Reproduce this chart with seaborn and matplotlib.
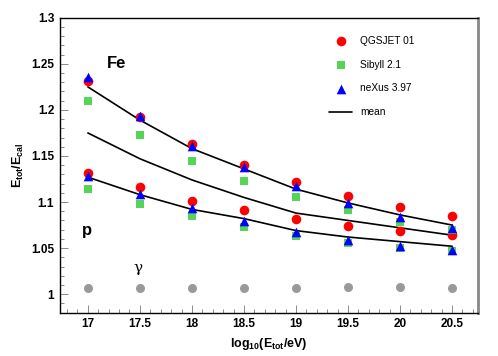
import numpy as np
import pandas as pd
import matplotlib
matplotlib.use("Agg")
import matplotlib.pyplot as plt
import seaborn as sns
from matplotlib.ticker import MultipleLocator

# energies, log10(E/eV)
energy = [17, 17.5, 18, 18.5, 19, 19.5, 20, 20.5]

# iron primaries
fe_qgsjet = [1.231, 1.192, 1.163, 1.140, 1.122, 1.107, 1.095, 1.085]
fe_sibyll = [1.210, 1.173, 1.145, 1.123, 1.105, 1.091, 1.078, 1.070]
fe_nexus = [1.236, 1.193, 1.161, 1.138, 1.117, 1.099, 1.084, 1.072]
fe_mean = [1.225, 1.189, 1.158, 1.136, 1.114, 1.099, 1.086, 1.075]

# proton primaries
p_qgsjet = [1.132, 1.116, 1.101, 1.091, 1.082, 1.074, 1.069, 1.064]
p_sibyll = [1.114, 1.098, 1.085, 1.073, 1.063, 1.056, 1.050, 1.047]
p_nexus = [1.128, 1.109, 1.093, 1.079, 1.067, 1.059, 1.052, 1.048]
p_mean = [1.127, 1.108, 1.092, 1.082, 1.069, 1.062, 1.057, 1.052]

# middle curve
mix_mean = [1.175, 1.147, 1.124, 1.105, 1.088, 1.080, 1.072, 1.064]

# photons
gamma = [1.007, 1.007, 1.007, 1.007, 1.007, 1.008, 1.008, 1.007]

sns.set_style("ticks")
plt.rcParams['font.family'] = ['Liberation Sans', 'DejaVu Sans']
plt.rcParams['mathtext.fontset'] = 'custom'
plt.rcParams['mathtext.rm'] = 'Liberation Sans:bold'
plt.rcParams['mathtext.it'] = 'Liberation Sans:bold'
plt.rcParams['mathtext.bf'] = 'Liberation Sans:bold'
plt.rcParams['text.color'] = 'black'
plt.rcParams['axes.labelcolor'] = 'black'
plt.rcParams['xtick.labelcolor'] = 'black'
plt.rcParams['ytick.labelcolor'] = 'black'

fig, ax = plt.subplots(figsize=(4.98, 3.56), dpi=100)
fig.subplots_adjust(left=0.12, right=0.96, top=0.95, bottom=0.122)

red = "#ff0000"
green = "#55d455"
blue = "#0000ff"
grey = "#999999"

# mean curves
for i, m in enumerate([fe_mean, mix_mean, p_mean]):
    sns.lineplot(x=energy, y=m, color="black", lw=1.2, ax=ax,
                 label="mean" if i == 0 else None, zorder=2)

sns.scatterplot(x=energy, y=fe_qgsjet, color=red, marker="o", s=48,
                linewidth=0, ax=ax, label="QGSJET 01", zorder=3)
sns.scatterplot(x=energy, y=p_qgsjet, color=red, marker="o", s=48,
                linewidth=0, ax=ax, zorder=3)
sns.scatterplot(x=energy, y=fe_sibyll, color=green, marker="s", s=36,
                linewidth=0, ax=ax, label="Sibyll 2.1", zorder=3)
sns.scatterplot(x=energy, y=p_sibyll, color=green, marker="s", s=36,
                linewidth=0, ax=ax, zorder=3)
sns.scatterplot(x=energy, y=fe_nexus, color=blue, marker="^", s=48,
                linewidth=0, ax=ax, label="neXus 3.97", zorder=4)
sns.scatterplot(x=energy, y=p_nexus, color=blue, marker="^", s=48,
                linewidth=0, ax=ax, zorder=4)
sns.scatterplot(x=energy, y=gamma, color=grey, marker="o", s=42,
                linewidth=0, ax=ax, zorder=3)

ax.set_xlim(16.73, 20.75)
ax.set_ylim(0.98, 1.3)
ax.xaxis.set_major_locator(MultipleLocator(0.5))
ax.xaxis.set_minor_locator(MultipleLocator(0.1))
ax.yaxis.set_major_locator(MultipleLocator(0.05))
ax.yaxis.set_minor_locator(MultipleLocator(0.01))
ax.set_xticks(energy)
ax.set_xticklabels(["17", "17.5", "18", "18.5", "19", "19.5", "20", "20.5"])
ax.set_yticklabels(["" if v < 0.99 else ("%g" % round(v, 2)) for v in ax.get_yticks()])
ax.tick_params(which="major", direction="in", length=6, width=0.6, color="#777777",
               labelsize=8.5, pad=4, labelcolor="black")
ax.tick_params(which="minor", direction="in", length=3, width=0.6, color="#777777")
for lab in ax.get_xticklabels() + ax.get_yticklabels():
    lab.set_fontweight("bold")

for side in ["left", "bottom", "top"]:
    ax.spines[side].set_color("black")
    ax.spines[side].set_linewidth(1.0)
ax.spines["right"].set_color("#888888")
ax.spines["right"].set_linewidth(2.0)

ax.set_xlabel(r"log$_{10}$(E$_{tot}$/eV)", fontsize=9, fontweight="bold")
ax.set_ylabel(r"E$_{tot}$/E$_{cal}$", fontsize=9, fontweight="bold")

ax.text(17.28, 1.25, "Fe", fontsize=12, fontweight="bold", ha="center", va="center",
        color="black")
ax.text(16.99, 1.069, "p", fontsize=12, fontweight="bold", ha="center", va="center",
        color="black")
ax.text(17.48, 1.028, "γ", fontsize=11, ha="center", va="center",
        family=["DejaVu Serif"], color="black")

handles, labels = ax.get_legend_handles_labels()
order = [labels.index(n) for n in ["QGSJET 01", "Sibyll 2.1", "neXus 3.97", "mean"]]
ax.legend([handles[i] for i in order], [labels[i] for i in order],
          frameon=False, loc="upper right", bbox_to_anchor=(0.874, 0.976),
          fontsize=7.3, handlelength=2.2, labelspacing=1.35, borderpad=0.6,
          labelcolor="black")

fig.savefig("out.png", dpi=100)
